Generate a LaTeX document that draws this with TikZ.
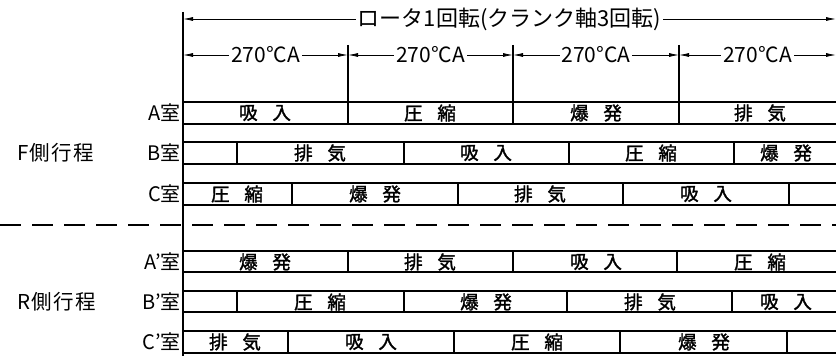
\documentclass[tikz,border=0pt]{standalone}
\usepackage{fontspec}
\setmainfont{Noto Sans CJK JP}[AutoFakeBold=1.6]
\usetikzlibrary{arrows.meta}
\begin{document}
\begin{tikzpicture}[x=1pt,y=-1pt,
  rowline/.style={line width=1.4pt},
  guide/.style={line width=1.2pt},
  dimarrow/.style={line width=0.8pt,{Latex[length=10pt,width=4pt]}-{Latex[length=10pt,width=4pt]}},
  dimtext/.style={fill=white,inner sep=2pt,font=\fontsize{21}{21}\selectfont},
  toptext/.style={fill=white,inner sep=2pt,font=\fontsize{22}{22}\selectfont},
  celltext/.style={inner sep=0pt,font=\fontsize{18.5}{18.5}\selectfont\bfseries},
  roomlabel/.style={anchor=east,inner sep=1pt,font=\fontsize{20}{20}\selectfont},
  sidelabel/.style={anchor=west,inner sep=0pt,font=\fontsize{20.5}{20.5}\selectfont},
  sep/.style={line width=1.2pt,dash pattern=on 21pt off 11pt}]
\useasboundingbox (0,0) rectangle (836,363);

% guide coordinates
\coordinate (L0) at (183,19);
\coordinate (L1) at (836,19);
\coordinate (t0) at (183,55);
\coordinate (t1) at (348,55);
\coordinate (t2) at (513,55);
\coordinate (t3) at (679,55);
\coordinate (t4) at (836,55);

% main vertical line
\draw[guide] (183,12) -- (183,356);
% tick lines
\foreach \x in {348,513,679} \draw[guide] (\x,45) -- (\x,102);

% top dimension
\draw[dimarrow] (L0) -- node[toptext] (rot) {ロータ1回転(クランク軸3回転)} (L1);
% 270 CA dimensions
\draw[dimarrow] (t0) -- node[dimtext] (d1) {270°CA} (t1);
\draw[dimarrow] (t1) -- node[dimtext] (d2) {270°CA} (t2);
\draw[dimarrow] (t2) -- node[dimtext] (d3) {270°CA} (t3);
\draw[dimarrow] (t3) -- node[dimtext] (d4) {270°CA} (t4);

% ---- F side ----
% A row
\draw[rowline] (183,102) -- (836,102) (183,124) -- (836,124);
\foreach \x in {348,513,679} \draw[rowline] (\x,102) -- (\x,124);
\node[celltext] (a1) at (265,113) {吸\hspace{0.8em}入};
\node[celltext] (a2) at (430,113) {圧\hspace{0.8em}縮};
\node[celltext] (a3) at (596,113) {爆\hspace{0.8em}発};
\node[celltext] (a4) at (760,113) {排\hspace{0.8em}気};
% B row
\draw[rowline] (183,142) -- (836,142) (183,164) -- (836,164);
\foreach \x in {237,404,569,734} \draw[rowline] (\x,142) -- (\x,164);
\node[celltext] (b1) at (320,153) {排\hspace{0.8em}気};
\node[celltext] (b2) at (486,153) {吸\hspace{0.8em}入};
\node[celltext] (b3) at (651,153) {圧\hspace{0.8em}縮};
\node[celltext] (b4) at (786,153) {爆\hspace{0.8em}発};
% C row
\draw[rowline] (183,183) -- (836,183) (183,205) -- (836,205);
\foreach \x in {292,458,623,789} \draw[rowline] (\x,183) -- (\x,205);
\node[celltext] (c1) at (237,194) {圧\hspace{0.8em}縮};
\node[celltext] (c2) at (375,194) {爆\hspace{0.8em}発};
\node[celltext] (c3) at (540,194) {排\hspace{0.8em}気};
\node[celltext] (c4) at (706,194) {吸\hspace{0.8em}入};

% separator
\draw[sep] (0,225) -- (836,225);

% ---- R side ----
% A' row
\draw[rowline] (183,251) -- (836,251) (183,272) -- (836,272);
\foreach \x in {348,513,677} \draw[rowline] (\x,251) -- (\x,272);
\node[celltext] (ap1) at (265,262) {爆\hspace{0.8em}発};
\node[celltext] (ap2) at (430,262) {排\hspace{0.8em}気};
\node[celltext] (ap3) at (596,262) {吸\hspace{0.8em}入};
\node[celltext] (ap4) at (760,262) {圧\hspace{0.8em}縮};
% B' row
\draw[rowline] (183,291) -- (836,291) (183,312) -- (836,312);
\foreach \x in {237,404,567,732} \draw[rowline] (\x,291) -- (\x,312);
\node[celltext] (bp1) at (320,302) {圧\hspace{0.8em}縮};
\node[celltext] (bp2) at (486,302) {爆\hspace{0.8em}発};
\node[celltext] (bp3) at (650,302) {排\hspace{0.8em}気};
\node[celltext] (bp4) at (786,302) {吸\hspace{0.8em}入};
% C' row
\draw[rowline] (183,331) -- (836,331) (183,353) -- (836,353);
\foreach \x in {288,454,620,787} \draw[rowline] (\x,331) -- (\x,353);
\node[celltext] (cp1) at (235,342) {排\hspace{0.8em}気};
\node[celltext] (cp2) at (371,342) {吸\hspace{0.8em}入};
\node[celltext] (cp3) at (537,342) {圧\hspace{0.8em}縮};
\node[celltext] (cp4) at (704,342) {爆\hspace{0.8em}発};

% room labels
\node[roomlabel] (lA) at (182,113) {A室};
\node[roomlabel] (lB) at (182,153) {B室};
\node[roomlabel] (lC) at (182,194) {C室};
\node[roomlabel] (lAp) at (182,262) {A\char"27室};
\node[roomlabel] (lBp) at (182,302) {B\char"27室};
\node[roomlabel] (lCp) at (182,342) {C\char"27室};

% side labels
\node[sidelabel] (F) at (17,153) {F\hspace{1pt}側\hspace{1.5pt}行\hspace{1.5pt}程};
\node[sidelabel] (R) at (17,302) {R\hspace{1pt}側\hspace{1.5pt}行\hspace{1.5pt}程};
\end{tikzpicture}
\end{document}
